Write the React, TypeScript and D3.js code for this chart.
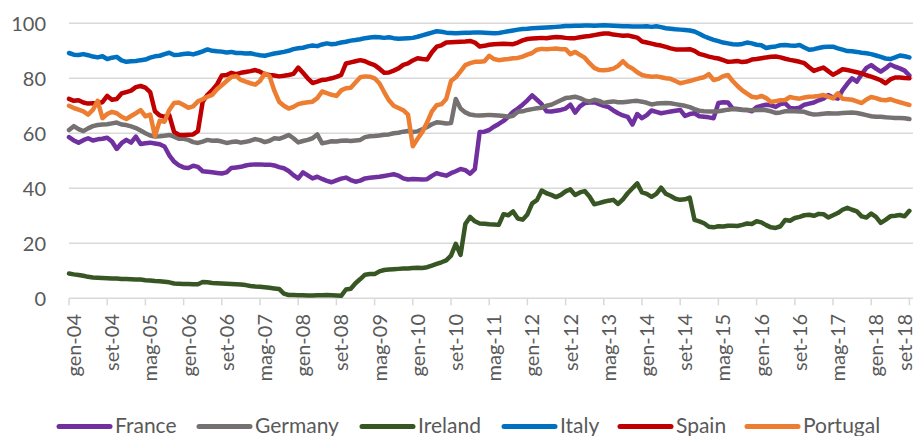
import React from "react";
import * as d3 from "d3";

// monthly values, gen-04 .. set-18
const months = d3.range(0, 177);

const tickLabels = [
  "gen-04", "set-04", "mag-05", "gen-06", "set-06", "mag-07", "gen-08", "set-08",
  "mag-09", "gen-10", "set-10", "mag-11", "gen-12", "set-12", "mag-13", "gen-14",
  "set-14", "mag-15", "gen-16", "set-16", "mag-17", "gen-18", "set-18",
];

const yTicks = [0, 20, 40, 60, 80, 100];

const france = [
  58.6, 57.4, 56.6, 57.5, 58.2, 57.4, 57.8, 58.0, 58.4, 57.0, 54.3, 56.4,
  57.6, 56.6, 58.8, 56.1, 56.4, 56.6, 56.3, 56.0, 55.2, 52.0, 49.7, 48.4,
  47.6, 47.4, 48.2, 47.8, 46.2, 46.0, 45.8, 45.6, 45.4, 45.8, 47.4, 47.6,
  47.8, 48.3, 48.6, 48.7, 48.7, 48.6, 48.6, 48.3, 47.7, 47.3, 46.3, 44.8,
  43.6, 45.8, 44.7, 43.6, 44.2, 43.4, 42.7, 42.2, 42.9, 43.5, 43.9, 43.0,
  42.4, 42.8, 43.6, 43.8, 44.0, 44.2, 44.5, 44.8, 45.1, 44.6, 43.6, 43.2,
  43.4, 43.3, 43.2, 43.3, 44.5, 45.5, 45.0, 44.6, 45.5, 46.2, 47.0, 46.6,
  45.3, 47.0, 60.5, 60.6, 61.2, 62.4, 63.4, 64.5, 66.0, 67.8, 69.0, 70.4,
  72.0, 73.8, 72.2, 70.6, 68.0, 67.9, 68.2, 68.5, 69.0, 70.4, 67.5, 69.8,
  71.0, 71.2, 71.3, 70.6, 70.0, 69.5, 68.3, 67.3, 66.5, 66.0, 63.2, 67.0,
  65.5, 66.6, 68.3, 67.8, 67.3, 67.6, 67.9, 68.2, 68.5, 66.3, 67.0, 67.3,
  66.2, 66.0, 65.8, 65.5, 71.0, 71.3, 71.2, 69.0, 68.8, 68.6, 68.5, 68.0,
  69.5, 70.0, 70.4, 70.2, 69.6, 70.6, 70.9, 69.2, 69.0, 69.3, 70.4, 70.8,
  71.2, 72.0, 72.6, 73.9, 73.0, 72.6, 75.7, 78.0, 80.0, 78.8, 81.5, 83.8,
  84.8, 83.5, 82.4, 83.6, 85.0, 84.2, 83.6, 82.8, 81.0,
];

const germany = [
  61.2, 62.6, 61.5, 60.8, 61.8, 62.6, 63.0, 63.2, 63.3, 63.6, 63.9, 63.2,
  63.0, 62.5, 61.9, 61.0, 60.0, 59.2, 58.8, 58.9, 59.1, 59.4, 58.8, 58.0,
  58.0, 57.6, 56.8, 56.5, 57.0, 57.6, 57.3, 57.4, 57.0, 56.5, 56.8, 57.0,
  56.6, 56.9, 57.3, 57.9, 57.5, 56.8, 57.3, 58.2, 58.0, 58.6, 59.4, 58.2,
  56.7, 57.2, 57.6, 58.2, 59.6, 56.4, 56.7, 57.1, 57.0, 57.3, 57.4, 57.2,
  57.4, 57.6, 58.6, 58.9, 59.0, 59.2, 59.5, 59.6, 60.0, 60.2, 60.6, 60.8,
  60.5, 60.7, 61.5, 62.3, 63.3, 64.0, 63.8, 63.6, 63.7, 72.5, 69.0, 67.6,
  66.8, 66.6, 66.5, 66.6, 66.7, 66.6, 66.5, 66.3, 66.0, 66.4, 67.8, 68.0,
  68.5, 68.8, 69.1, 69.3, 70.0, 70.4, 71.2, 72.0, 72.8, 73.0, 73.3, 72.8,
  72.0, 71.5, 72.2, 71.8, 71.0, 71.4, 71.6, 71.3, 71.3, 71.5, 71.7, 71.8,
  71.5, 71.1, 70.5, 70.8, 70.9, 71.0, 70.9, 70.6, 70.3, 70.0, 69.5, 68.8,
  68.2, 68.0, 67.9, 67.9, 68.0, 68.3, 68.6, 68.8, 68.7, 68.5, 68.5, 68.4,
  68.5, 68.6, 68.4, 68.0, 67.4, 67.6, 68.0, 68.1, 68.0, 67.9, 67.8, 67.2,
  66.8, 66.9, 67.1, 67.3, 67.2, 67.2, 67.4, 67.5, 67.6, 67.4, 67.0, 66.6,
  66.2, 66.0, 66.0, 65.8, 65.7, 65.6, 65.6, 65.5, 65.2,
];

const ireland = [
  9.0, 8.7, 8.5, 8.2, 7.8, 7.6, 7.5, 7.4, 7.3, 7.2, 7.2, 7.0,
  7.0, 6.9, 6.8, 6.8, 6.6, 6.5, 6.3, 6.2, 6.0, 5.8, 5.4, 5.3,
  5.2, 5.2, 5.1, 5.1, 5.9, 5.8, 5.6, 5.5, 5.4, 5.3, 5.2, 5.1,
  5.0, 4.8, 4.5, 4.3, 4.2, 4.0, 3.8, 3.6, 3.4, 1.7, 1.2, 1.2,
  1.1, 1.1, 1.0, 1.0, 1.1, 1.1, 1.2, 1.1, 1.0, 0.9, 3.2, 3.5,
  5.5, 7.0, 8.6, 8.8, 8.8, 9.8, 10.3, 10.5, 10.6, 10.7, 10.8, 10.8,
  11.0, 11.1, 11.0, 11.3, 11.9, 12.5, 13.1, 13.8, 15.5, 19.8, 15.8, 27.0,
  29.6, 28.0, 27.2, 27.1, 26.9, 26.8, 26.7, 30.6, 30.2, 31.6, 29.0, 28.6,
  30.5, 34.5, 35.7, 39.2, 38.2, 37.6, 36.8, 37.6, 38.9, 39.6, 37.6, 38.5,
  39.0, 37.0, 34.2, 34.6, 35.1, 35.5, 35.8, 34.3, 36.0, 38.2, 40.0, 41.8,
  38.5, 38.0, 36.9, 38.0, 40.2, 38.0, 37.2, 36.2, 35.8, 36.0, 36.6, 28.5,
  28.0, 27.3, 26.0, 25.8, 26.2, 26.1, 26.4, 26.4, 26.3, 26.7, 27.2, 27.0,
  28.0, 27.6, 26.6, 25.8, 25.6, 26.2, 28.5, 28.2, 29.2, 29.6, 30.2, 30.4,
  30.0, 30.7, 30.6, 29.4, 30.2, 31.0, 32.2, 32.9, 32.2, 31.6, 29.8, 29.4,
  30.8, 29.6, 27.4, 28.5, 29.8, 30.0, 30.3, 29.8, 31.8,
];

const italy = [
  89.2, 88.6, 88.5, 88.8, 88.4, 87.9, 87.6, 88.0, 87.0, 87.5, 87.8, 86.5,
  86.0, 86.2, 86.3, 86.6, 86.8, 87.5, 88.0, 88.2, 88.8, 89.3, 88.5, 88.6,
  88.8, 89.0, 88.7, 89.2, 89.8, 90.5, 90.0, 89.8, 89.7, 89.4, 89.6, 89.2,
  89.2, 89.0, 89.1, 88.7, 88.4, 88.2, 88.6, 89.0, 89.3, 89.6, 90.0, 90.6,
  90.9, 91.1, 91.6, 91.9, 91.7, 92.3, 92.7, 92.4, 92.6, 93.0, 93.3, 93.7,
  93.9, 94.2, 94.6, 94.8, 95.0, 94.9, 94.7, 94.9, 94.6, 94.4, 94.5, 94.6,
  94.7, 95.1, 95.6, 96.1, 96.6, 97.1, 96.9, 96.6, 96.5, 96.4, 96.5, 96.6,
  96.6, 96.7, 96.7, 96.6, 96.5, 96.4, 96.5, 96.8, 97.1, 97.4, 97.7, 97.9,
  98.0, 98.2, 98.3, 98.4, 98.5, 98.6, 98.7, 98.8, 99.0, 99.0, 99.1, 99.1,
  99.2, 99.2, 99.1, 99.2, 99.3, 99.2, 99.1, 99.0, 98.9, 98.9, 98.8, 98.8,
  98.8, 98.9, 98.7, 98.9, 98.6, 98.2, 98.0, 97.8, 97.7, 97.6, 97.4, 97.0,
  96.2, 95.3, 94.6, 94.0, 93.5, 93.0, 92.7, 92.4, 92.3, 92.5, 93.0, 92.7,
  92.2, 92.0, 91.0, 91.4, 91.6, 92.0, 92.1, 91.9, 91.8, 92.1, 91.2, 90.4,
  90.6, 91.0, 91.4, 91.5, 91.5, 90.9, 90.4, 89.9, 89.8, 89.6, 89.3, 89.1,
  88.8, 88.3, 87.8, 87.2, 87.0, 87.6, 88.3, 88.0, 87.6,
];

const spain = [
  72.5, 71.8, 72.0, 71.2, 70.8, 70.9, 71.0, 71.3, 73.6, 72.2, 72.5, 74.5,
  75.0, 75.5, 76.8, 77.2, 76.6, 75.0, 68.0, 66.5, 66.0, 66.6, 60.5, 59.5,
  59.4, 59.5, 59.6, 60.8, 71.5, 74.0, 75.7, 77.8, 81.0, 81.2, 82.0, 81.5,
  82.0, 82.3, 82.6, 83.0, 82.4, 81.5, 81.2, 81.0, 80.7, 80.9, 81.2, 81.6,
  83.9, 82.0, 80.0, 78.3, 78.8, 79.4, 79.6, 80.0, 80.5, 81.2, 85.4, 85.8,
  86.2, 86.6, 86.2, 85.4, 84.8, 83.5, 82.0, 82.1, 82.8, 83.6, 84.9, 85.4,
  86.5, 87.3, 87.0, 86.8, 89.5, 91.5, 92.0, 93.0, 93.1, 93.2, 93.3, 93.4,
  93.6, 93.0, 91.6, 91.8, 92.2, 92.4, 92.5, 92.6, 92.5, 92.4, 93.0, 93.8,
  94.3, 94.5, 94.6, 94.7, 94.6, 94.8, 95.0, 94.9, 94.7, 94.6, 94.6, 94.9,
  95.2, 95.4, 95.7, 96.0, 96.3, 96.3, 95.9, 95.7, 95.5, 95.6, 95.2, 94.8,
  93.4, 93.0, 92.6, 92.2, 91.9, 91.4, 90.9, 90.5, 90.5, 90.5, 90.6, 90.0,
  88.9, 88.4, 87.9, 87.5, 87.2, 86.6, 86.0, 86.1, 86.3, 85.9, 86.1, 86.8,
  87.0, 87.3, 87.6, 87.8, 87.9, 87.6, 87.1, 86.7, 86.4, 86.0, 85.5, 84.0,
  82.7, 83.3, 83.9, 82.6, 81.3, 82.2, 83.3, 83.0, 82.6, 82.2, 81.8, 81.1,
  80.6, 80.0, 79.3, 78.2, 79.6, 80.3, 80.3, 80.1, 80.0,
];

const portugal = [
  70.0, 69.2, 68.6, 68.0, 66.8, 68.5, 71.8, 65.5, 67.0, 67.8, 67.3, 66.0,
  65.2, 66.3, 67.3, 68.4, 66.2, 66.8, 59.0, 64.6, 64.2, 68.5, 71.0, 71.2,
  70.3, 69.3, 69.8, 71.6, 72.4, 73.3, 74.0, 76.0, 77.5, 79.0, 80.5, 80.8,
  79.4, 78.8, 78.2, 77.7, 79.0, 81.8, 80.8, 75.5, 71.5, 70.0, 69.0, 69.6,
  70.6, 71.0, 71.3, 71.5, 72.8, 75.2, 74.6, 74.0, 73.6, 75.6, 76.4, 76.6,
  78.5, 80.4, 80.7, 80.6, 80.0, 78.2, 75.0, 72.0, 70.0, 69.2, 68.4, 66.8,
  55.3, 58.0, 60.5, 64.0, 68.0, 70.2, 70.6, 72.5, 79.0, 80.4, 82.5, 84.8,
  85.5, 86.0, 86.0, 86.2, 88.2, 87.0, 86.6, 86.8, 87.0, 87.3, 87.4, 87.9,
  88.6, 89.2, 90.4, 90.7, 90.6, 90.7, 90.8, 90.6, 90.6, 88.8, 89.6, 88.5,
  87.5, 85.5, 83.8, 83.0, 82.9, 83.1, 83.5, 84.5, 86.2, 84.5, 83.6, 82.2,
  81.2, 80.8, 80.6, 80.7, 80.4, 80.0, 79.8, 79.0, 78.2, 78.6, 79.0, 79.5,
  80.0, 80.4, 81.5, 79.4, 79.8, 80.8, 81.2, 79.0, 77.2, 75.6, 74.4, 73.3,
  73.0, 73.6, 72.8, 71.4, 71.7, 72.0, 72.1, 73.2, 72.8, 72.6, 73.0, 73.3,
  73.4, 73.6, 73.9, 73.3, 72.7, 74.5, 72.6, 72.4, 72.2, 71.6, 71.0, 72.3,
  73.2, 72.8, 72.2, 72.0, 72.4, 71.8, 71.3, 70.8, 70.3,
];

const series = [
  { name: "France", values: france, color: "#7030A0" },
  { name: "Germany", values: germany, color: "#767171" },
  { name: "Ireland", values: ireland, color: "#375623" },
  { name: "Italy", values: italy, color: "#0070C0" },
  { name: "Spain", values: spain, color: "#C00000" },
  { name: "Portugal", values: portugal, color: "#ED7D31" },
];

const legendX = [57, 197, 360, 502, 618, 745];

export default function App() {
  const W = 918;
  const H = 436;
  const left = 69;
  const right = 909.4;
  const gridRight = 913;

  const x = d3.scaleLinear().domain([0, months.length - 1]).range([left, right]);
  const y = d3.scaleLinear().domain([0, 100]).range([298.3, 23.3]);

  const line = d3
    .line<number>()
    .x((d, i) => x(months[i]))
    .y((d) => y(d));

  const font = "Lato, 'Open Sans', sans-serif";

  return (
    <svg
      width={W}
      height={H}
      style={{ position: "absolute", left: 0, top: 0, background: "#fff" }}
      fontFamily={font}
    >
      {yTicks.map((t) => (
        <g key={t}>
          <line
            x1={left}
            x2={gridRight}
            y1={y(t)}
            y2={y(t)}
            stroke="#d9d9d9"
            strokeWidth={1.5}
          />
          <text
            x={46}
            y={y(t) + 7.2}
            textAnchor="end"
            fontSize={20}
            fill="#595959"
          >
            {t}
          </text>
        </g>
      ))}

      {tickLabels.map((lab, k) => {
        const tx = x(k * 8);
        // baseline sits right of the tick; keep the last one inside the frame
        const bx = Math.min(tx + 12, W - 6);
        return (
          <g key={lab}>
            <line
              x1={tx}
              x2={tx}
              y1={y(0)}
              y2={y(0) + 7}
              stroke="#d9d9d9"
              strokeWidth={1.5}
            />
            <text
              transform={`translate(${bx},314) rotate(-90)`}
              textAnchor="end"
              fontSize={20}
              fill="#595959"
            >
              {lab}
            </text>
          </g>
        );
      })}

      {series.map((s) => (
        <path
          key={s.name}
          d={line(s.values) || ""}
          fill="none"
          stroke={s.color}
          strokeWidth={4.5}
          strokeLinejoin="round"
          strokeLinecap="round"
        />
      ))}

      {series.map((s, i) => (
        <g key={s.name} transform={`translate(${legendX[i]},0)`}>
          <line
            x1={2}
            x2={53}
            y1={426.5}
            y2={426.5}
            stroke={s.color}
            strokeWidth={5}
            strokeLinecap="round"
          />
          <text x={58} y={433.4} fontSize={21} fill="#595959">
            {s.name}
          </text>
        </g>
      ))}
    </svg>
  );
}
